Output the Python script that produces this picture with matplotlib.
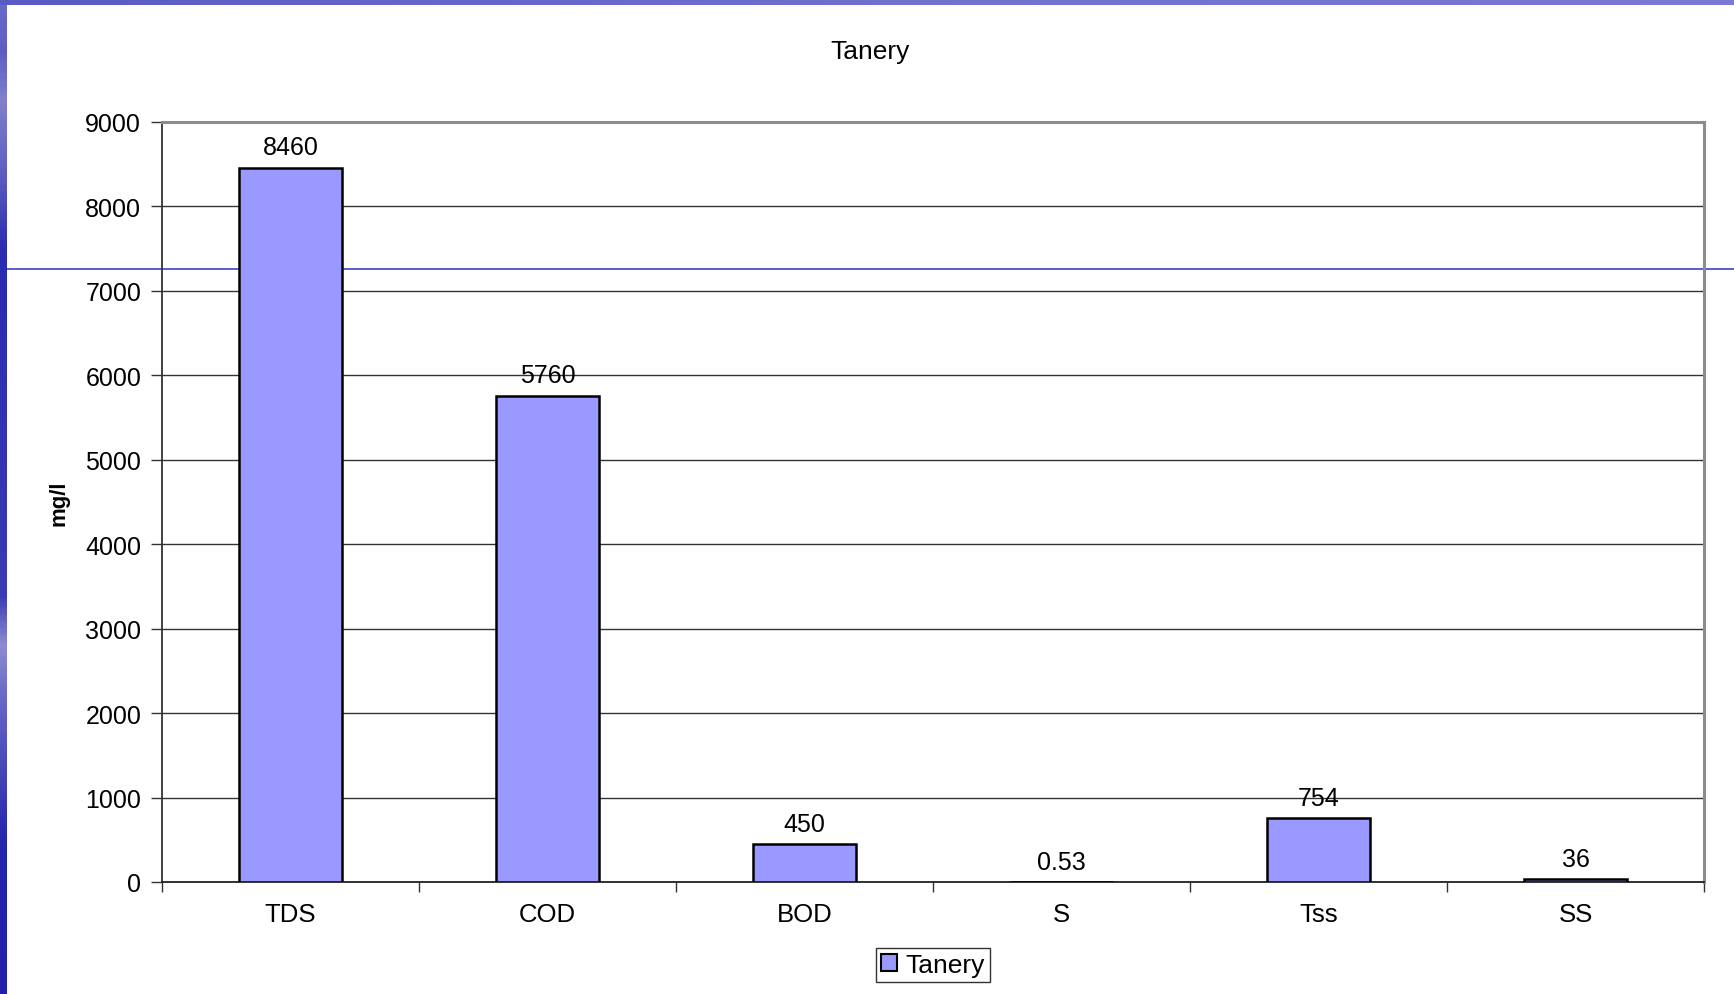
import numpy as np
import matplotlib
matplotlib.use("Agg")
import matplotlib.pyplot as plt
from matplotlib.patches import Patch
from matplotlib.lines import Line2D
from matplotlib.colors import LinearSegmentedColormap

# Data
categories = ["TDS", "COD", "BOD", "S", "Tss", "SS"]
values = [8460, 5760, 450, 0.53, 754, 36]
value_labels = ["8460", "5760", "450", "0.53", "754", "36"]
series_name = "Tanery"
y_ticks = [0, 1000, 2000, 3000, 4000, 5000, 6000, 7000, 8000, 9000]

plt.rcParams["font.family"] = ["Liberation Sans", "DejaVu Sans"]
FS = 18

W, H = 1734, 995
fig = plt.figure(figsize=(W / 100, H / 100), dpi=100, facecolor="white")

# Slide decoration: blue strip on the left, band on top, thin rule across
left_strip = fig.add_axes([0, 0, 7 / W, 1])
left_cmap = LinearSegmentedColormap.from_list(
    "strip",
    [(0.0, "#2020a8"), (0.15, "#2424ac"), (0.3, "#6a6ac8"), (0.35, "#8c8cd4"),
     (0.40, "#3a3ab4"), (0.75, "#2a2ab0"), (0.82, "#5a5ac0"), (0.9, "#8080cc"),
     (0.95, "#5c5cc4"), (1.0, "#6a6acc")])
left_strip.imshow(np.linspace(1, 0, 400).reshape(-1, 1), aspect="auto",
                  cmap=left_cmap, extent=[0, 1, 0, 1], origin="upper")
left_strip.set_axis_off()

top_band = fig.add_axes([0, 1 - 6 / H, 1, 6 / H])
top_cmap = LinearSegmentedColormap.from_list("band", ["#5a5ac4", "#7070d0", "#7a7ad4"])
top_band.imshow(np.linspace(0, 1, 400).reshape(1, -1), aspect="auto",
                cmap=top_cmap, extent=[0, 1, 0, 1])
top_band.set_axis_off()

fig.add_artist(Line2D([7 / W, 1], [1 - 270 / H, 1 - 270 / H], transform=fig.transFigure,
                      color="#3232c0", lw=1.1, zorder=-1))

# Chart
ax = fig.add_axes([162 / W, 112 / H, 1542 / W, 760 / H])
ax.patch.set_alpha(0)
x = np.arange(len(categories))
bars = ax.bar(x, values, width=0.4, color="#9999ff", edgecolor="black",
              linewidth=1.8, zorder=3)

for xi, v, lab in zip(x, values, value_labels):
    ax.annotate(lab, (xi, v), xytext=(0, 14.5), textcoords="offset points",
                ha="center", va="center", fontsize=FS, zorder=4)

ax.set_xlim(-0.5, len(categories) - 0.5)
ax.set_ylim(0, 9000)
ax.set_yticks(y_ticks)
ax.set_yticklabels([str(t) for t in y_ticks], fontsize=FS)
ax.set_xticks(np.arange(-0.5, len(categories)))
ax.set_xticklabels([])
ax.set_xticks(x, minor=True)
ax.set_xticklabels(categories, minor=True, fontsize=FS + 0.5)
ax.tick_params(axis="x", which="major", length=7, width=1, color="#333333", direction="out")
ax.tick_params(axis="x", which="minor", length=0, pad=14.5)
ax.tick_params(axis="y", length=8, width=1, color="#333333", pad=7)

ax.yaxis.grid(True, color="#333333", linewidth=1.0, zorder=1)
ax.set_axisbelow(True)

for side in ("top", "right"):
    ax.spines[side].set_color("#8c8c8c")
    ax.spines[side].set_linewidth(2.2)
ax.spines["left"].set_color("#333333")
ax.spines["left"].set_linewidth(1.3)
ax.spines["bottom"].set_color("#222222")
ax.spines["bottom"].set_linewidth(1.3)

ax.set_ylabel("mg/l", fontsize=16, fontweight="heavy")
ax.yaxis.set_label_coords(-0.0597, 0.5)

fig.text(870 / W, 1 - 52 / H, "Tanery", ha="center", va="center", fontsize=FS + 1)

handle = Patch(facecolor="#9999ff", edgecolor="black", linewidth=1.5)
leg = fig.legend([handle], [series_name], loc="center",
                 bbox_to_anchor=(933 / W, 1 - 966 / H), fontsize=FS + 1,
                 fancybox=False, frameon=True, edgecolor="black",
                 handlelength=0.6, handleheight=0.6, handletextpad=0.3,
                 borderpad=0.2, borderaxespad=0)
leg.get_frame().set_linewidth(1.0)

fig.savefig("out.png", dpi=100, facecolor="white")
